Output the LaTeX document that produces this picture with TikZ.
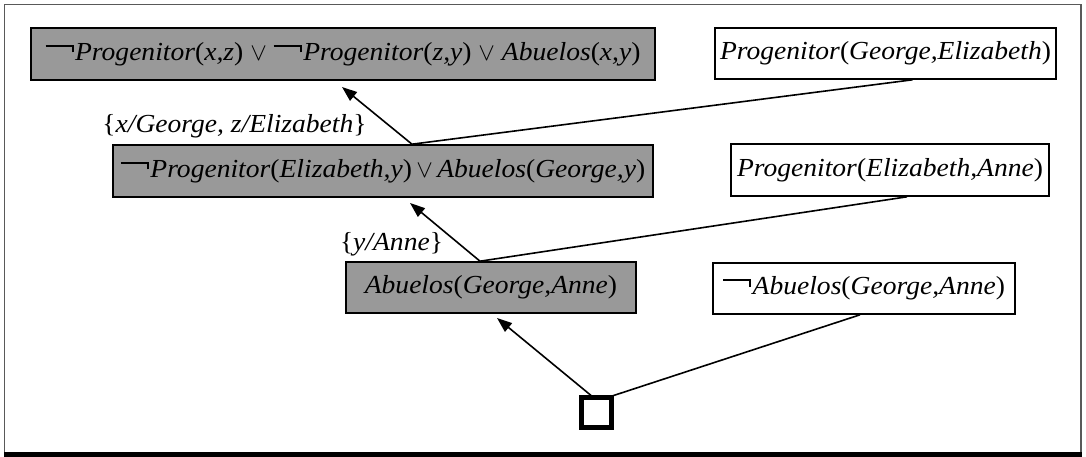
\documentclass[tikz,border=0pt]{standalone}
\usepackage{fontspec}
\setmainfont{Liberation Serif}[FakeStretch=1.06]
\usetikzlibrary{arrows.meta}
\newcommand\mynot{\raisebox{0.52em}{\rule{1.08em}{0.07em}}\kern-0.07em\raisebox{0.3em}{\rule{0.07em}{0.29em}}\kern0.06em}
\newcommand\myor{\ $\vee$\ }
\newcommand\prg[1]{\textit{Progenitor}(\textit{#1})}
\newcommand\abu[1]{\textit{Abuelos}(\textit{#1})}
\tikzset{
  clause/.style={draw=black, line width=1.6pt, inner sep=0pt, anchor=center, font=\fontsize{26}{30}\selectfont},
  resolvent/.style={clause, fill=black!40},
  given/.style={clause, fill=white},
  arr/.style={line width=1.6pt, -{Triangle[length=15pt,width=11pt]}},
  ln/.style={line width=1.6pt},
  sub/.style={inner sep=0pt, font=\fontsize{26}{30}\selectfont}
}
\begin{document}
\begin{tikzpicture}[x=1pt,y=-1pt]
\useasboundingbox (0,0) rectangle (1086,457);
\draw[black!65, line width=1.5pt] (4.5,4.5) rectangle (1081,453);
\fill[black] (3.5,452) rectangle (1082,457);
\node[resolvent, minimum width=624pt, minimum height=52pt] (b1) at (343,54) {\mynot\prg{x,z}\myor\mynot\prg{z,y}\myor\abu{x,y}};
\node[given, minimum width=341pt, minimum height=51pt] (b2) at (885.5,53.5) {\prg{George,Elizabeth}};
\node[resolvent, minimum width=540pt, minimum height=52pt] (b3) at (383,171) {\mynot\prg{Elizabeth,y}\,$\vee$\,\abu{George,y}};
\node[given, minimum width=318pt, minimum height=52pt] (b4) at (890,170) {\prg{Elizabeth,Anne}};
\node[resolvent, minimum width=290pt, minimum height=51pt] (b5) at (491,287.5) {\abu{George,Anne}};
\node[given, minimum width=302pt, minimum height=51pt] (b6) at (864,288.5) {\mynot\abu{George,Anne}};
\node[draw=black, line width=5pt, minimum width=30pt, minimum height=30pt, inner sep=0pt] (e) at (596.5,412.5) {};
\node[sub] (s1) at (234.5,126) {\{\textit{x/George, z/Elizabeth}\}};
\node[sub] (s2) at (391.5,244) {\{\textit{y/Anne}\}};
\coordinate (t1) at (342,87);
\coordinate (t2) at (410,203);
\coordinate (t3) at (497,318);
\draw[arr] ([xshift=29pt]b3.north) -- (t1);
\draw[ln] ([xshift=29pt]b3.north) -- ([xshift=27pt]b2.south);
\draw[arr] ([xshift=-11pt]b5.north) -- (t2);
\draw[ln] ([xshift=-11pt]b5.north) -- ([xshift=17pt]b4.south);
\draw[arr] ([xshift=-3pt,yshift=-2.5pt]e.north) -- (t3);
\draw[ln] ([xshift=11pt,yshift=-2.5pt]e.north) -- ([xshift=-4pt]b6.south);
\end{tikzpicture}
\end{document}
